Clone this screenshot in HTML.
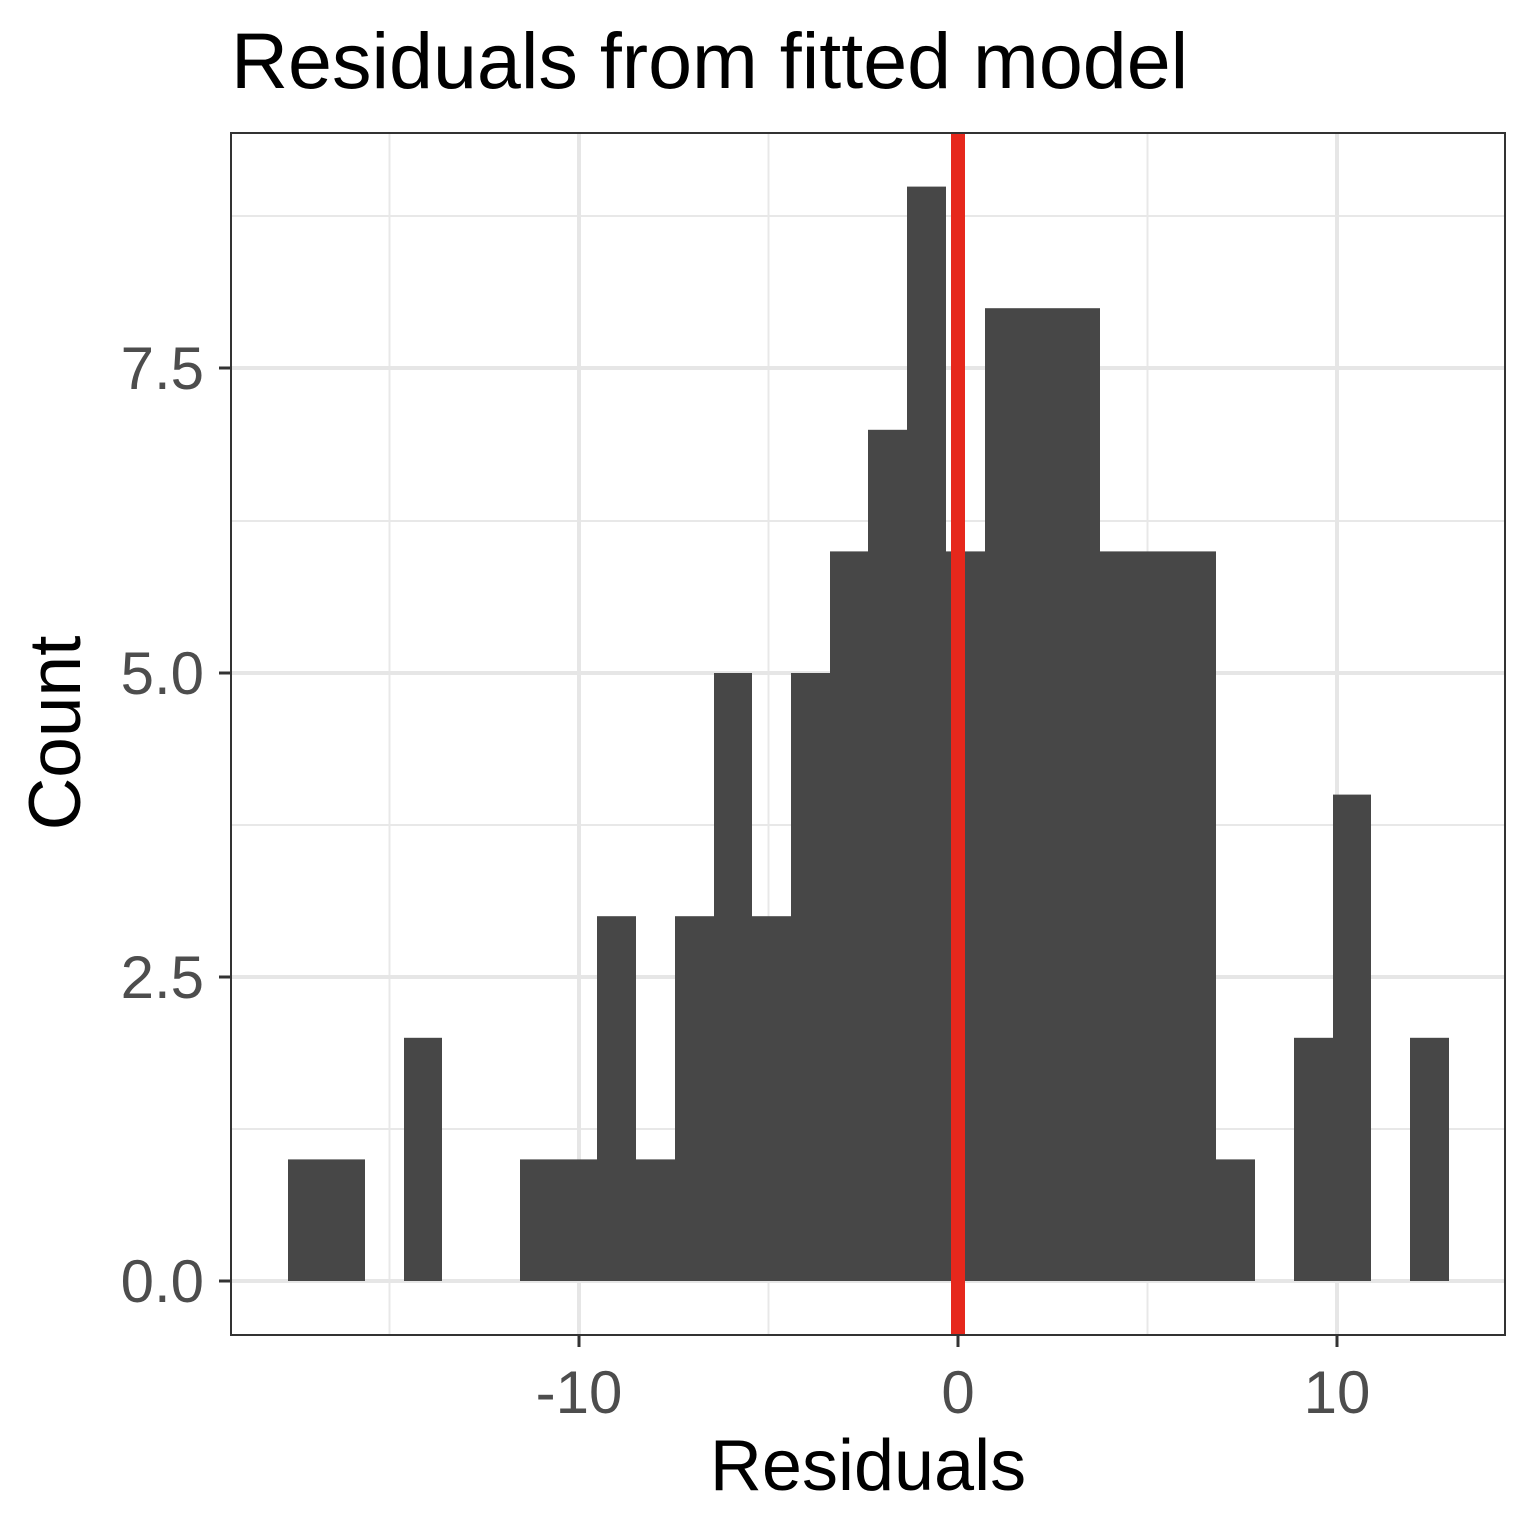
<!DOCTYPE html>
<html><head><meta charset="utf-8"><style>body{margin:0;background:#fff}svg{display:block}</style></head><body>
<svg width="1536" height="1536" xmlns="http://www.w3.org/2000/svg" font-family="Liberation Sans, Arial, sans-serif">
<rect width="1536" height="1536" fill="#fff"/>
<g stroke="#e8e8e8" stroke-width="2">
<line x1="231" x2="1505" y1="1129" y2="1129"/><line x1="231" x2="1505" y1="825" y2="825"/>
<line x1="231" x2="1505" y1="521" y2="521"/><line x1="231" x2="1505" y1="216" y2="216"/>
<line y1="133" y2="1335" x1="389.5" x2="389.5"/><line y1="133" y2="1335" x1="768.5" x2="768.5"/><line y1="133" y2="1335" x1="1147.5" x2="1147.5"/>
</g>
<g stroke="#e6e6e6" stroke-width="4">
<line x1="231" x2="1505" y1="1281" y2="1281"/><line x1="231" x2="1505" y1="977" y2="977"/>
<line x1="231" x2="1505" y1="673" y2="673"/><line x1="231" x2="1505" y1="368" y2="368"/>
<line y1="133" y2="1335" x1="579" x2="579"/><line y1="133" y2="1335" x1="958" x2="958"/><line y1="133" y2="1335" x1="1337" x2="1337"/>
</g>
<g fill="#474747">
<rect x="288" y="1159.4" width="77" height="121.6"/>
<rect x="404" y="1037.8" width="38" height="243.2"/>
<rect x="520" y="1159.4" width="77" height="121.6"/>
<rect x="597" y="916.2" width="39" height="364.8"/>
<rect x="636" y="1159.4" width="39" height="121.6"/>
<rect x="675" y="916.2" width="39" height="364.8"/>
<rect x="714" y="673" width="38" height="608"/>
<rect x="752" y="916.2" width="39" height="364.8"/>
<rect x="791" y="673" width="39" height="608"/>
<rect x="830" y="551.4" width="38" height="729.6"/>
<rect x="868" y="429.8" width="39" height="851.2"/>
<rect x="907" y="186.6" width="39" height="1094.4"/>
<rect x="946" y="551.4" width="39" height="729.6"/>
<rect x="985" y="308.2" width="115" height="972.8"/>
<rect x="1100" y="551.4" width="116" height="729.6"/>
<rect x="1216" y="1159.4" width="39" height="121.6"/>
<rect x="1294" y="1037.8" width="39" height="243.2"/>
<rect x="1333" y="794.6" width="38" height="486.4"/>
<rect x="1410" y="1037.8" width="39" height="243.2"/>
</g>
<rect x="951" y="133" width="14" height="1202" fill="#e6281c"/>
<rect x="231" y="133" width="1274" height="1202" fill="none" stroke="#333" stroke-width="2"/>
<g stroke="#333" stroke-width="3">
<line x1="219" x2="231" y1="1281" y2="1281"/><line x1="219" x2="231" y1="977" y2="977"/>
<line x1="219" x2="231" y1="673" y2="673"/><line x1="219" x2="231" y1="368" y2="368"/>
<line y1="1335" y2="1347" x1="579" x2="579"/><line y1="1335" y2="1347" x1="958" x2="958"/><line y1="1335" y2="1347" x1="1337" x2="1337"/>
</g>
<g fill="#4d4d4d" font-size="60" text-anchor="end">
<text x="204" y="1302">0.0</text><text x="204" y="998">2.5</text>
<text x="204" y="694">5.0</text><text x="204" y="389">7.5</text>
</g>
<g fill="#4d4d4d" font-size="60" text-anchor="middle">
<text x="579" y="1413">-10</text><text x="958" y="1413">0</text><text x="1337" y="1413">10</text>
</g>
<text x="868" y="1490" font-size="72" text-anchor="middle">Residuals</text>
<text transform="translate(80,733) rotate(-90)" font-size="73" text-anchor="middle">Count</text>
<text x="231" y="88" font-size="79">Residuals from fitted model</text>
</svg>
</body></html>
